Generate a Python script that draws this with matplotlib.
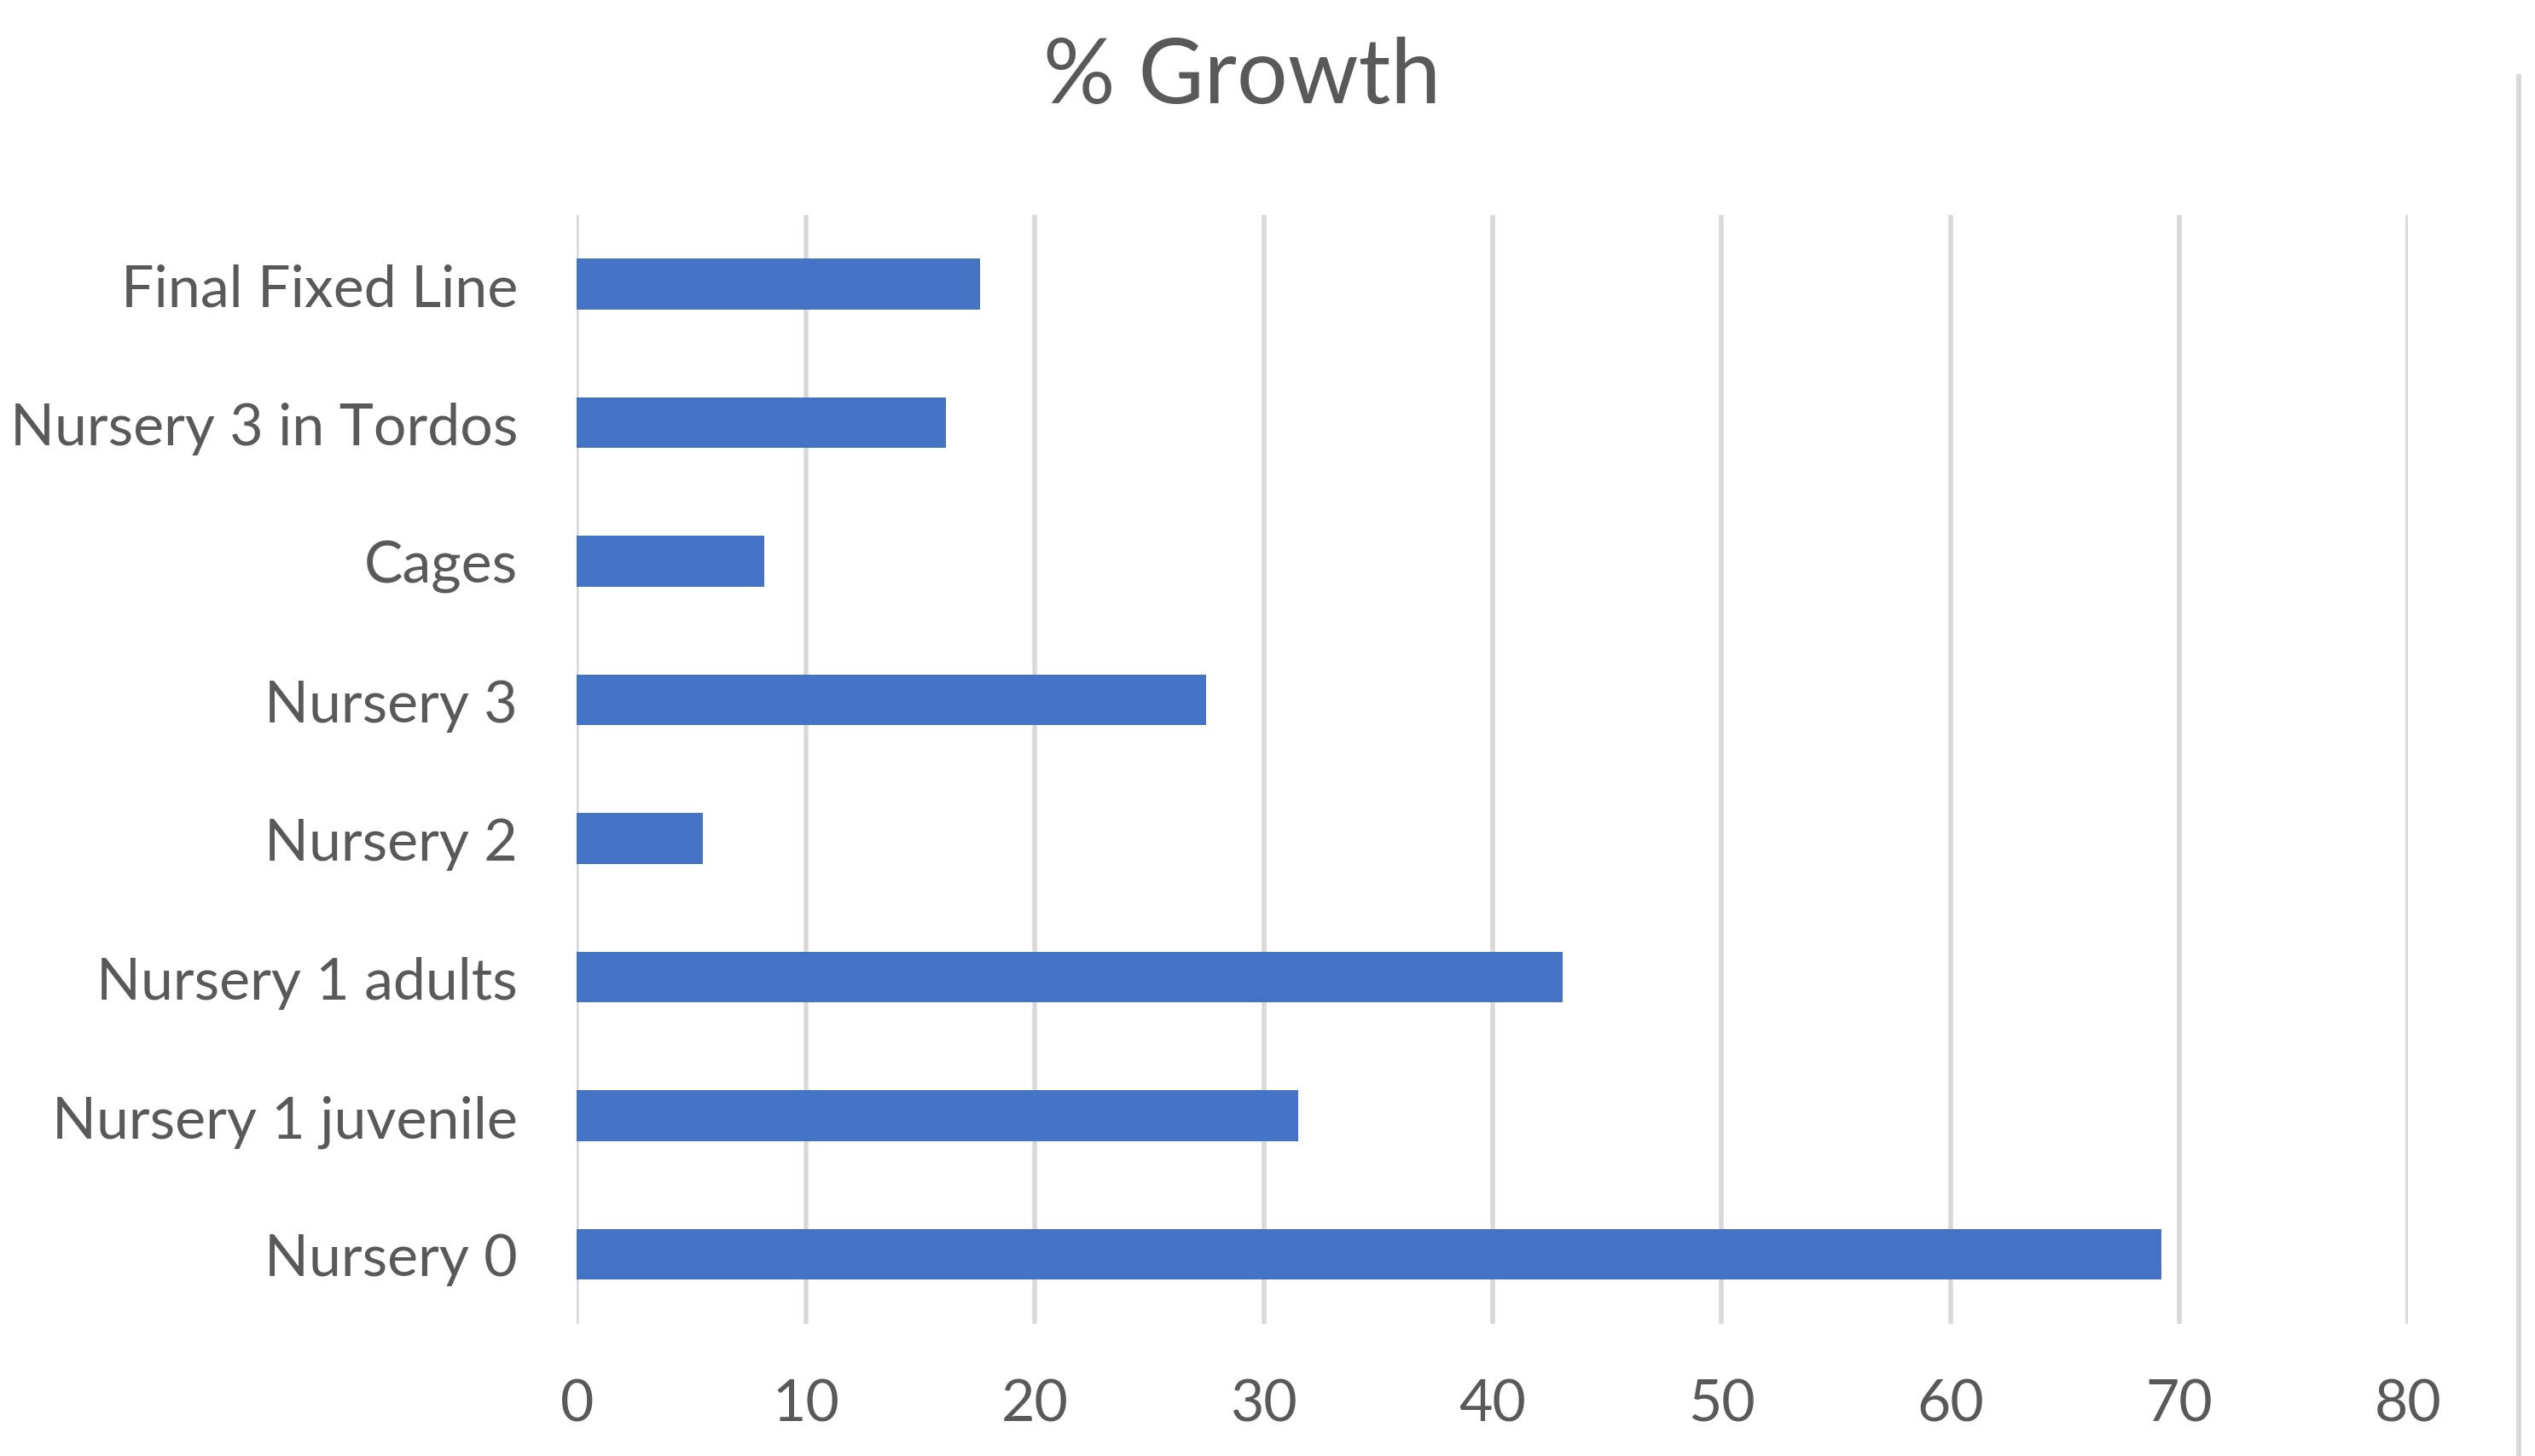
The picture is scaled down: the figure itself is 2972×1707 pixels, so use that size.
import matplotlib

matplotlib.use("Agg")

import matplotlib.pyplot as plt
from matplotlib.lines import Line2D

# Data, bottom to top as drawn
categories = [
    "Nursery 0",
    "Nursery 1 juvenile",
    "Nursery 1 adults",
    "Nursery 2",
    "Nursery 3",
    "Cages",
    "Nursery 3 in Tordos",
    "Final Fixed Line",
]
growth = [69.2, 31.5, 43.05, 5.5, 27.5, 8.2, 16.1, 17.6]
x_ticks = [0, 10, 20, 30, 40, 50, 60, 70, 80]

C_BAR = "#4472C4"
C_GRID = "#D9D9D9"
C_TEXT = "#595959"

plt.rcParams["font.family"] = ["Lato", "DejaVu Sans"]

fig = plt.figure(figsize=(14.86, 8.54), dpi=200)
fig.patch.set_facecolor("white")
ax = fig.add_axes([0.2276, 0.0909, 0.7224, 0.7611])

ypos = list(range(len(categories)))
ax.barh(ypos, growth, height=0.364, color=C_BAR, zorder=3)

ax.set_xlim(0, 80)
ax.set_ylim(-0.5, 7.5)
ax.set_xticks(x_ticks)
ax.set_xticklabels([str(t) for t in x_ticks])
ax.set_yticks(ypos)
ax.set_yticklabels(categories)

ax.grid(axis="x", color=C_GRID, lw=2.0, zorder=0)
for s in ax.spines.values():
    s.set_visible(False)
ax.tick_params(axis="both", length=0, labelsize=24.5, colors=C_TEXT)
ax.tick_params(axis="y", pad=25)
ax.tick_params(axis="x", pad=23)

fig.text(0.490, 0.947, "% Growth", fontsize=38, color=C_TEXT,
         ha="center", va="center")

# thin frame edge on the right from the cropped source
fig.add_artist(Line2D([0.9936, 0.9936], [0.0, 0.9467], transform=fig.transFigure,
                      color=C_GRID, lw=2.2))

fig.savefig("out.png", dpi=200, facecolor="white")
